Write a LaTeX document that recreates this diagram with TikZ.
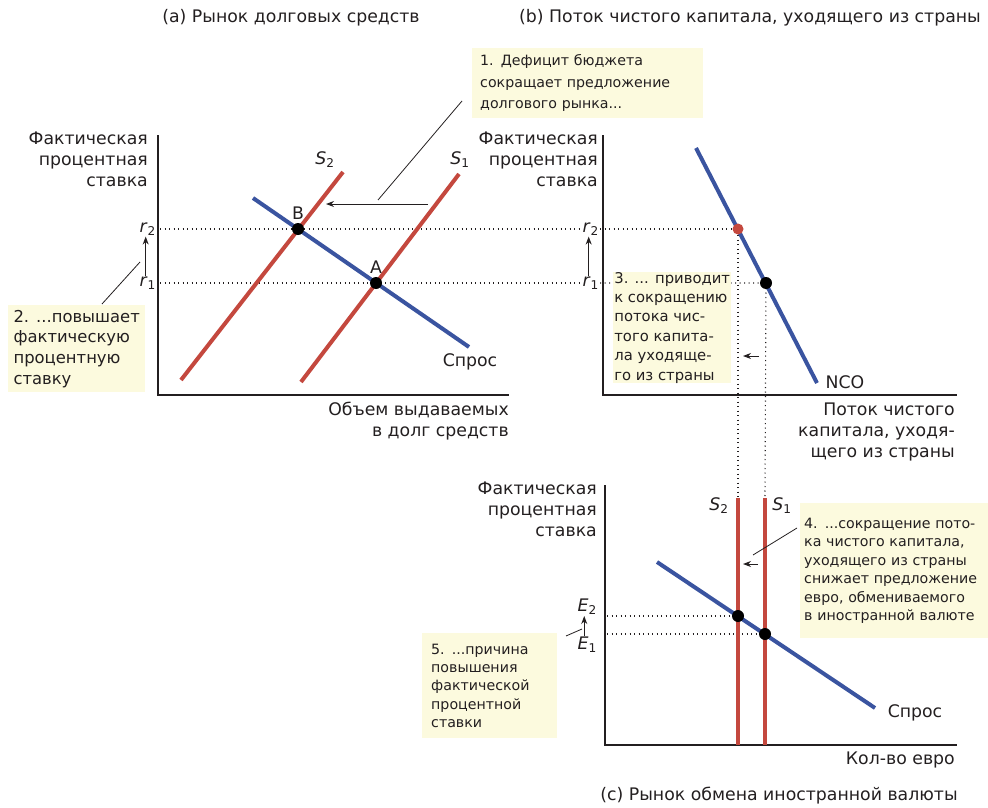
\documentclass[tikz,border=0pt]{standalone}
\usepackage{fontspec}
\setmainfont{DejaVu Sans}
\usetikzlibrary{arrows.meta, positioning}

\definecolor{supred}{RGB}{196,72,62}
\definecolor{demblue}{RGB}{58,84,160}
\definecolor{notefill}{RGB}{252,250,222}
\definecolor{ink}{RGB}{35,31,32}

\newcommand{\varlbl}[2]{\textit{#1}\textsubscript{#2}}

\begin{document}
\begin{tikzpicture}[x=1pt, y=-1pt, text=ink, font=\fontsize{17.3}{21}\selectfont,
    axis/.style={draw=ink, line width=1.4pt},
    sup/.style={draw=supred, line width=4pt},
    dem/.style={draw=demblue, line width=4pt},
    guide/.style={draw=ink, line width=1.1pt, dash pattern=on 1.1pt off 3.4pt},
    dot/.style={shape=circle, fill=black, inner sep=0pt, minimum size=12pt, node contents={}},
    reddot/.style={dot, fill=supred, minimum size=11pt},
    note/.style={fill=notefill, align=left, anchor=north west, inner ysep=0pt, font=\fontsize{14.2}{20}\selectfont},
    shiftarr/.style={draw=ink, line width=1pt, -{Stealth[length=8pt, width=6pt]}},
    pointer/.style={draw=ink, line width=0.8pt},
    ylbl/.style={align=right, anchor=east, inner sep=0pt},
    rlbl/.style={anchor=east, inner sep=1pt}]
    \useasboundingbox (0,0) rectangle (988,808);

    %Titles
    \node (titleA) at (291, 18) {(a) Рынок долговых средств};
    \node (titleB) at (750, 18) {(b) Поток чистого капитала, уходящего из страны};
    \node (titleC) at (779, 796) {(c) Рынок обмена иностранной валюты};

    %Axes
    \coordinate (oA) at (158, 395);
    \coordinate (oB) at (603, 395);
    \coordinate (oC) at (605, 745);
    \draw[axis] (158, 135) -- (oA) -- (509, 395);
    \draw[axis] (603, 135) -- (oB) -- (957, 395);
    \draw[axis] (605, 485) -- (oC) -- (957, 745);

    \node (yA) at (148, 159) [ylbl] {Фактическая\\процентная\\ставка};
    \node (yB) at (598, 159) [ylbl] {Фактическая\\процентная\\ставка};
    \node (yC) at (597, 509) [ylbl] {Фактическая\\процентная\\ставка};
    \node (xA) at (509, 421) [ylbl] {Объем выдаваемых\\в долг средств};
    \node (xB) at (955, 432) [ylbl] {Поток чистого\\капитала, уходя-\\щего из страны};
    \node (xC) at (955, 760) [ylbl] {Кол-во евро};

    %Rate labels
    \node (r2A) at (157, 229) [rlbl] {\varlbl{r}{2}};
    \node (r1A) at (157, 283) [rlbl] {\varlbl{r}{1}};
    \node (r2B) at (600, 229) [rlbl] {\varlbl{r}{2}};
    \node (r1B) at (600, 283) [rlbl] {\varlbl{r}{1}};
    \node (E2) at (598, 607) [rlbl] {\varlbl{E}{2}};
    \node (E1) at (598, 645) [rlbl] {\varlbl{E}{1}};

    %Equilibria
    \coordinate (B) at (298, 229);
    \coordinate (A) at (376, 283);
    \coordinate (P2) at (738, 229);
    \coordinate (P1) at (766, 283);
    \coordinate (Q2) at (738, 616);
    \coordinate (Q1) at (765, 634);
    \coordinate (S2top) at (738, 498);
    \coordinate (S1top) at (765, 498);

    %Dotted guides
    \draw[guide] (160, 229) -- (r2B.west);
    \draw[guide] (160, 283) -- (r1B.west);
    \draw[guide] (r2B.east) -- (P2) -- (S2top);
    \draw[guide] (r1B.east) -- (P1) -- (S1top);
    \draw[guide] (607, 616) -- (Q2);
    \draw[guide] (607, 634) -- (Q1);

    %Panel (a) curves
    \draw[dem] (253, 198) -- (469, 347);
    \draw[sup] (181, 380) -- (343, 172);
    \draw[sup] (301, 382) -- (459, 174);
    \node (labS2a) at (325, 160) {\varlbl{S}{2}};
    \node (labS1a) at (460, 160) {\varlbl{S}{1}};
    \node (labDa) at (470, 362) {Спрос};
    \node (dotB) at (B) [dot];
    \node (dotA) at (A) [dot];
    \node (labB) [above=0pt of dotB] {B};
    \node (labA) [above=0pt of dotA] {A};

    %Panel (b) curve
    \draw[dem] (696, 148) -- (817, 383);
    \node (labNCO) at (845, 382) {NCO};
    \node (dotP2) at (P2) [reddot];
    \node (dotP1) at (P1) [dot];

    %Panel (c) curves
    \draw[sup] (S2top) -- (738, 745);
    \draw[sup] (S1top) -- (765, 745);
    \draw[dem] (657, 562) -- (875, 708);
    \node (labS2c) at (719, 506) {\varlbl{S}{2}};
    \node (labS1c) at (782, 506) {\varlbl{S}{1}};
    \node (labDc) at (915, 713) {Спрос};
    \node (dotQ2) at (Q2) [dot];
    \node (dotQ1) at (Q1) [dot];

    %Shift arrows
    \draw[shiftarr] (428, 204) coordinate (s1from) -- (326, 204) coordinate (s1to);
    \draw[shiftarr] ([xshift=-2pt]r1A.north) -- ([xshift=-2pt]r2A.south);
    \draw[shiftarr] ([xshift=-2pt]r1B.north) -- ([xshift=-2pt]r2B.south);
    \draw[shiftarr] (759, 356) coordinate (s3from) -- (743, 356) coordinate (s3to);
    \draw[shiftarr] (758, 564) coordinate (s4from) -- (743, 564) coordinate (s4to);
    \draw[shiftarr] ([xshift=-3pt]E1.north) -- ([xshift=-3pt]E2.south);

    %Notes
    \node (note1) at (472, 48) [note, inner xsep=8pt, text width=215pt, minimum height=70pt, font=\fontsize{14.2}{21.5}\selectfont]
        {1. Дефицит бюджета\\сокращает предложение\\долгового рынка...};
    \node (note2) at (8, 305) [note, inner xsep=0pt, minimum width=137pt, minimum height=87pt, font=\fontsize{16.4}{20.7}\selectfont]
        {2. ...повышает\\фактическую\\процентную\\ставку};
    \node (note3) at (613, 272) [note, inner xsep=0pt, minimum width=118pt, minimum height=110pt, font=\fontsize{14.8}{19.4}\selectfont]
        {3. ... приводит\\к сокращению\\потока чис-\\того капита-\\ла уходяще-\\го из страны};
    \node (note4) at (800, 503) [note, inner xsep=4pt, text width=180pt, minimum height=135pt, font=\fontsize{14.2}{18.4}\selectfont]
        {4. ...сокращение пото-\\ка чистого капитала,\\уходящего из страны\\снижает предложение\\евро, обмениваемого\\в иностранной валюте};
    \node (note5) at (422, 633) [note, inner xsep=9pt, text width=117pt, minimum height=105pt, font=\fontsize{14.2}{18.3}\selectfont]
        {5. ...причина\\повышения\\фактической\\процентной\\ставки};

    %Pointers
    \coordinate (tip1) at (462, 101);
    \coordinate (end1) at (378, 200);
    \draw[pointer] (tip1) -- (end1);
    \coordinate (tip2) at (102, 304);
    \coordinate (end2) at (140, 262);
    \draw[pointer] (tip2) -- (end2);
    \coordinate (tip4) at (797, 528);
    \coordinate (end4) at (753, 555);
    \draw[pointer] (tip4) -- (end4);
    \coordinate (tip5) at (566, 636);
    \coordinate (end5) at (582, 629);
    \draw[pointer] (tip5) -- (end5);
\end{tikzpicture}
\end{document}
